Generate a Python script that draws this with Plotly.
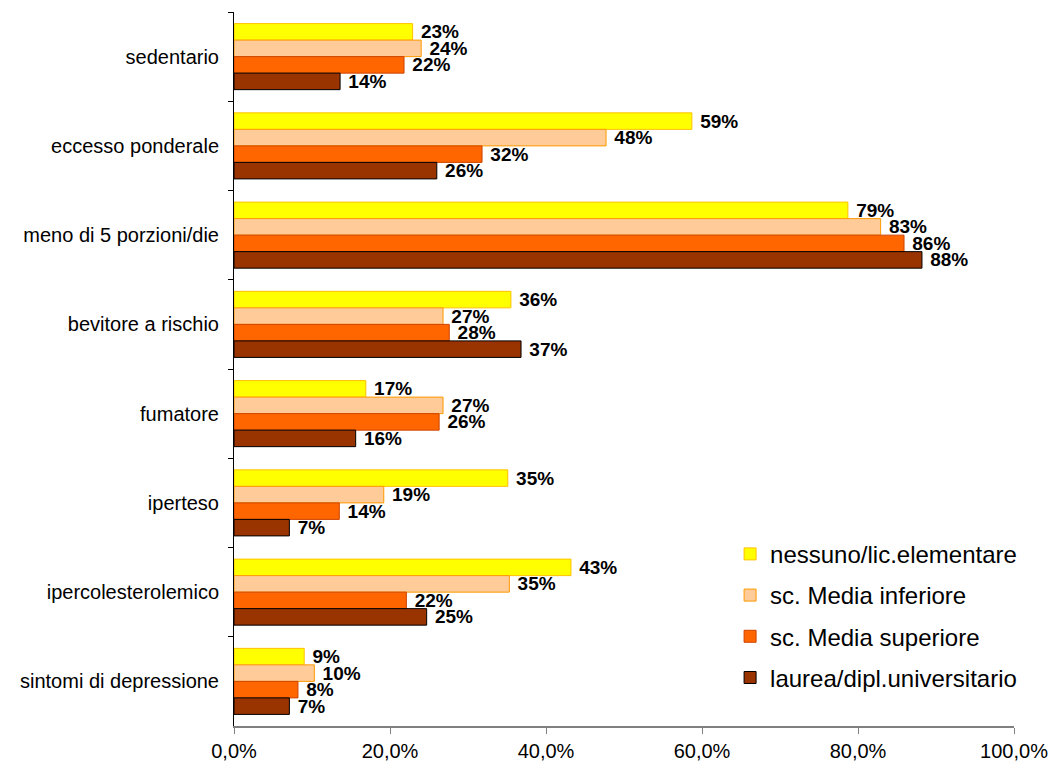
import plotly.graph_objects as go

categories = ["sedentario", "eccesso ponderale", "meno di 5 porzioni/die", "bevitore a rischio",
              "fumatore", "iperteso", "ipercolesterolemico", "sintomi di depressione"]
series_names = ["nessuno/lic.elementare", "sc. Media inferiore", "sc. Media superiore", "laurea/dipl.universitario"]
nessuno = [22.9, 58.7, 78.7, 35.5, 16.9, 35.1, 43.2, 9.0]
media_inf = [24.0, 47.7, 82.9, 26.8, 26.8, 19.2, 35.3, 10.3]
media_sup = [21.8, 31.8, 85.9, 27.6, 26.3, 13.5, 22.1, 8.2]
laurea = [13.6, 26.0, 88.2, 36.8, 15.6, 7.1, 24.7, 7.1]
x_tickvals = [0, 20, 40, 60, 80, 100]
x_ticktext = ["0,0%", "20,0%", "40,0%", "60,0%", "80,0%", "100,0%"]

fills = ["#FFFF00", "#FFCC99", "#FF6600", "#993300"]
lines = ["#FFC000", "#FF9900", "#CC4400", "#000000"]

fig = go.Figure()
for i, (name, vals, fc, lc) in enumerate(zip(series_names, [nessuno, media_inf, media_sup, laurea], fills, lines)):
    fig.add_trace(go.Bar(
        y=categories, x=vals, name=name, orientation="h", legendgroup=f"g{i}",
        marker=dict(color=fc, line=dict(color=lc, width=1)),
        text=[f"\u00a0{round(v):d}%" for v in vals],
        textposition="outside", constraintext="none", cliponaxis=False,
        textfont=dict(family="Liberation Sans, Arial", size=19, color="black", weight="bold"),
        hoverinfo="skip",
    ))

fig.update_layout(
    width=1051, height=767,
    margin=dict(l=234, r=37, t=12, b=41, autoexpand=False),
    barmode="group", bargap=0.26, bargroupgap=0,
    plot_bgcolor="white", paper_bgcolor="white",
    font=dict(family="Liberation Sans, Arial", size=20, color="black"),
    showlegend=True,
    legend=dict(x=0.636, y=0.272, xanchor="left", yanchor="top",
                font=dict(size=24, color="black"), tracegroupgap=7, traceorder="grouped",
                itemwidth=30, bgcolor="rgba(0,0,0,0)"),
)
fig.update_xaxes(range=[0, 100], tickvals=x_tickvals, ticktext=x_ticktext, automargin=False,
                 showgrid=False, zeroline=False, showline=True, linecolor="#808080", linewidth=2,
                 ticks="outside", ticklen=6, tickcolor="#808080", tickwidth=1,
                 tickfont=dict(size=20))
fig.update_yaxes(autorange="reversed", showgrid=False, showline=True, linecolor="black", linewidth=1,
                 automargin=False,
                 ticks="outside", tickson="boundaries", ticklen=5, tickcolor="black",
                 tickfont=dict(size=20), ticklabelstandoff=10)

fig.write_html("out.html")
